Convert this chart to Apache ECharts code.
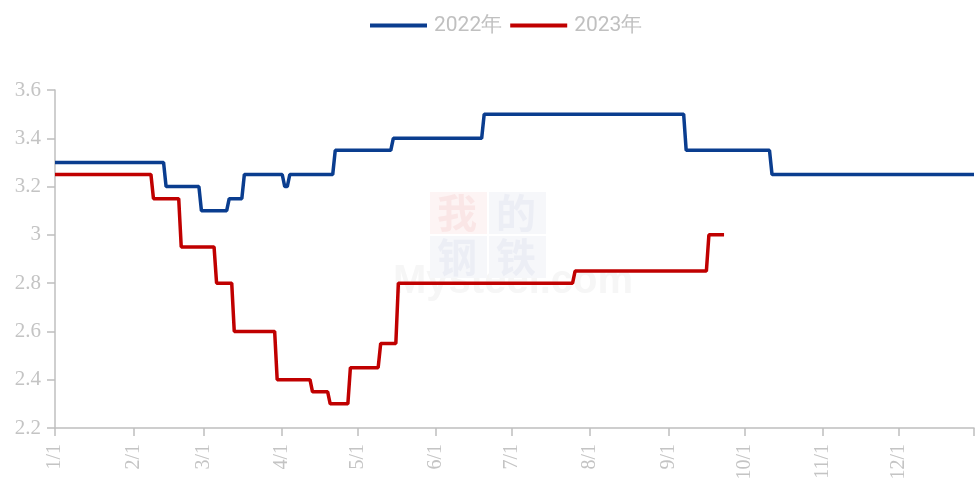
<!DOCTYPE html>
<html>
<head>
<meta charset="utf-8">
<script src="https://cdn.jsdelivr.net/npm/echarts@6/dist/echarts.min.js"></script>
<style>html,body{margin:0;padding:0;background:#fff}#c{width:975px;height:484px}</style>
</head>
<body>
<div id="c"></div>
<script>
// Series names
const seriesNames = ['2022年', '2023年'];
// Change points (date M/D, value)
const dates2022 = ['1/1','2/13','2/14','2/27','2/28','3/10','3/11','3/16','3/17','4/1','4/2','4/3','4/4','4/21','4/22','5/14','5/15','6/19','6/20','9/7','9/8','10/11','10/12','12/31'];
const values2022 = [3.3,3.3,3.2,3.2,3.1,3.1,3.15,3.15,3.25,3.25,3.2,3.2,3.25,3.25,3.35,3.35,3.4,3.4,3.5,3.5,3.35,3.35,3.25,3.25];
const dates2023 = ['1/1','2/8','2/9','2/19','2/20','3/5','3/6','3/12','3/13','3/29','3/30','4/12','4/13','4/19','4/20','4/27','4/28','5/9','5/10','5/16','5/17','7/25','7/26','9/16','9/17','9/23'];
const values2023 = [3.25,3.25,3.15,3.15,2.95,2.95,2.8,2.8,2.6,2.6,2.4,2.4,2.35,2.35,2.3,2.3,2.45,2.45,2.55,2.55,2.8,2.8,2.85,2.85,3.0,3.0];
// Month tick labels
const monthLabels = ['1/1','2/1','3/1','4/1','5/1','6/1','7/1','8/1','9/1','10/1','11/1','12/1'];
// Y axis range
const yMin = 2.2, yMax = 3.6, yStep = 0.2;

// Build day categories for one (non-leap) year
const daysInMonth = [31,28,31,30,31,30,31,31,30,31,30,31];
const dayCats = [];
daysInMonth.forEach((n, m) => { for (let d = 1; d <= n; d++) dayCats.push((m + 1) + '/' + d); });
const lastIdx = dayCats.length - 1;

const toPairs = (ds, vs) => ds.map((d, i) => [d, vs[i]]);

const chart = echarts.init(document.getElementById('c'));
chart.setOption({
  animation: false,
  backgroundColor: '#fff',
  legend: {
    top: 10,
    left: 365,
    icon: 'rect',
    itemWidth: 57,
    itemHeight: 4,
    itemGap: 8,
    textStyle: { color: '#c0c0c0', fontSize: 21, fontFamily: 'Roboto, sans-serif', padding: [0, 0, 0, 2] },
    data: seriesNames
  },
  graphic: [
    { type: 'group', left: 430, top: 192, silent: true, z: -10, children: [
      { type: 'rect', shape: { x: 0, y: 0, width: 57, height: 42 }, style: { fill: '#fdf4f4' } },
      { type: 'rect', shape: { x: 59, y: 0, width: 57, height: 42 }, style: { fill: '#f6f7fa' } },
      { type: 'rect', shape: { x: 0, y: 44, width: 57, height: 42 }, style: { fill: '#f6f7fa' } },
      { type: 'rect', shape: { x: 59, y: 44, width: 57, height: 42 }, style: { fill: '#f6f7fa' } },
      { type: 'text', style: { x: 7, y: 1, text: '我', fill: '#fae6e6', font: 'bold 40px "Noto Sans CJK SC"' } },
      { type: 'text', style: { x: 66, y: 1, text: '的', fill: '#eceef5', font: 'bold 40px "Noto Sans CJK SC"' } },
      { type: 'text', style: { x: 7, y: 45, text: '钢', fill: '#eceef5', font: 'bold 40px "Noto Sans CJK SC"' } },
      { type: 'text', style: { x: 66, y: 45, text: '铁', fill: '#eceef5', font: 'bold 40px "Noto Sans CJK SC"' } }
    ]},
    { type: 'text', left: 393, top: 262, silent: true, z: -10, style: { text: 'Mysteel.com', fill: '#f6f6f6', font: 'bold 40px "Liberation Sans"' } }
  ],
  grid: { left: 55, right: 1, top: 90, bottom: 56, containLabel: false },
  xAxis: {
    type: 'category',
    data: dayCats,
    boundaryGap: false,
    axisLine: { lineStyle: { color: '#bfbfbf', width: 1.5 } },
    axisTick: {
      show: true, length: 8, lineStyle: { color: '#bfbfbf', width: 1.5 },
      interval: (i, v) => monthLabels.indexOf(v) >= 0 || i === lastIdx
    },
    axisLabel: {
      rotate: 90, margin: 16, color: '#c4c4c4', fontSize: 20,
      fontFamily: '"Liberation Serif", "DejaVu Serif", serif',
      interval: (i, v) => monthLabels.indexOf(v) >= 0
    },
    splitLine: { show: false }
  },
  yAxis: {
    type: 'value',
    min: yMin, max: yMax, interval: yStep,
    axisLine: { show: true, lineStyle: { color: '#bfbfbf', width: 1.5 } },
    axisTick: { show: true, length: 8, lineStyle: { color: '#bfbfbf', width: 1.5 } },
    axisLabel: {
      margin: 14, color: '#c4c4c4', fontSize: 21,
      fontFamily: '"Liberation Serif", "DejaVu Serif", serif',
      formatter: v => String(+v.toFixed(1))
    },
    splitLine: { show: false }
  },
  series: [
    {
      name: seriesNames[0], type: 'line', showSymbol: false, symbol: 'none',
      data: toPairs(dates2022, values2022),
      lineStyle: { color: '#0a3d8f', width: 3.5 }, itemStyle: { color: '#0a3d8f' }, z: 3
    },
    {
      name: seriesNames[1], type: 'line', showSymbol: false, symbol: 'none',
      data: toPairs(dates2023, values2023),
      lineStyle: { color: '#c00000', width: 3.5 }, itemStyle: { color: '#c00000' }, z: 3
    }
  ]
});
</script>
</body>
</html>
